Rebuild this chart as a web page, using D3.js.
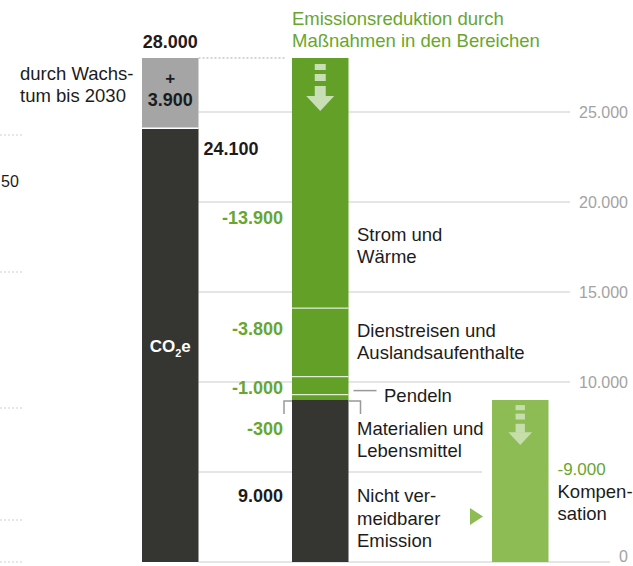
<!DOCTYPE html>
<html>
<head>
<meta charset="utf-8">
<script src="https://cdn.jsdelivr.net/npm/d3@7"></script>
<style>
  body { margin: 0; background: #fff; }
  svg { display: block; font-family: "Liberation Sans", Arial, sans-serif; }
</style>
</head>
<body>
<svg id="chart" width="633" height="566"></svg>
<script>
// t CO2e
const startValue = 24100;
const growthValue = 3900;
const growthLabel = ["durch Wachs-", "tum bis 2030"];
const measureNames = [["Strom und", "Wärme"], ["Dienstreisen und", "Auslandsaufenthalte"], ["Pendeln"], ["Materialien und", "Lebensmittel"]];
const measureValues = [-13900, -3800, -1000, -300];
const remainingName = ["Nicht ver-", "meidbarer", "Emission"];
const remainingValue = 9000;
const compensationName = ["Kompen-", "sation"];
const compensationValue = -9000;
const titleLines = ["Emissionsreduktion durch", "Maßnahmen in den Bereichen"];
const tickValues = [0, 5000, 10000, 15000, 20000, 25000];
const tickLabels = ["0", "", "10.000", "15.000", "20.000", "25.000"];

// colours
const dark = "#353532", grey = "#a5a5a5", green = "#62a028", lightGreen = "#8dbc55";
const greenText = "#68a630", textCol = "#1c1c1c";
const fs = 18.5;

const de = d3.formatLocale({ decimal: ",", thousands: ".", grouping: [3], currency: ["", " €"], minus: "-" });
const fmt = de.format(",d");

const svg = d3.select("#chart");
const y = d3.scaleLinear().domain([0, 25000]).range([562, 112]);

// column left edges
const col = { start: 142, measures: 292, comp: 492 };
const barW = 56.5;

// layout of the labels (baselines)
const valueLabelY = [224, 335, 394, 435];
const nameLabelY = [241, 337, 402, 435];
const nameLabelX = [357, 357, 384, 357];

// --- cut-off neighbour chart on the left edge
const ghost = svg.append("g").attr("stroke", "#cfcfcf").attr("stroke-dasharray", "2,2");
[135, 272, 408, 520, 562].forEach(gy => {
  ghost.append("line").attr("x1", 0).attr("x2", 22).attr("y1", gy).attr("y2", gy);
});
svg.append("text").attr("x", 1).attr("y", 187)
  .attr("font-size", 16).attr("fill", textCol).text("50");

// --- gridlines + axis labels on the right
const axis = svg.append("g");
tickValues.forEach((t, i) => {
  const lbl = axis.append("text")
    .attr("x", 628).attr("y", Math.min(y(t), 556)).attr("dy", "0.35em")
    .attr("text-anchor", "end").attr("font-size", 16).attr("fill", "#a3a3a3")
    .text(tickLabels[i]);
  const w = tickLabels[i] ? lbl.node().getComputedTextLength() : 0;
  const x2 = tickLabels[i] ? 628 - w - 9 : col.comp - 10;
  axis.insert("line", "text")
    .attr("x1", col.start + barW).attr("x2", x2)
    .attr("y1", y(t)).attr("y2", y(t))
    .attr("stroke", "#dcdcdc").attr("stroke-width", 1.5);
});

const total = startValue + growthValue;
// dotted connector at the top level
svg.append("line")
  .attr("x1", col.start + barW).attr("x2", col.measures - 6)
  .attr("y1", y(total)).attr("y2", y(total))
  .attr("stroke", "#c8c8c8").attr("stroke-width", 1.5).attr("stroke-dasharray", "2,2");

// --- first column: start value + growth
svg.append("rect").attr("x", col.start).attr("width", barW)
  .attr("y", y(startValue)).attr("height", y(0) - y(startValue)).attr("fill", dark);
svg.append("rect").attr("x", col.start).attr("width", barW)
  .attr("y", y(total)).attr("height", y(startValue) - y(total)).attr("fill", grey);
svg.append("line").attr("x1", col.start).attr("x2", col.start + barW)
  .attr("y1", y(startValue)).attr("y2", y(startValue)).attr("stroke", "#fff").attr("stroke-width", 1.5);

const cx0 = col.start + barW / 2;
svg.append("text").attr("x", cx0).attr("y", 48).attr("text-anchor", "middle")
  .attr("font-size", 18).attr("font-weight", "bold").attr("fill", textCol).text(fmt(total));
svg.append("text").attr("x", cx0).attr("y", 84).attr("text-anchor", "middle")
  .attr("font-size", 17).attr("font-weight", "bold").attr("fill", textCol).text("+");
svg.append("text").attr("x", cx0).attr("y", 106).attr("text-anchor", "middle")
  .attr("font-size", 18).attr("font-weight", "bold").attr("fill", textCol).text(fmt(growthValue));
growthLabel.forEach((l, i) => {
  svg.append("text").attr("x", 20).attr("y", 80 + i * 22)
    .attr("font-size", fs).attr("fill", textCol).text(l);
});
svg.append("text").attr("x", col.start + barW + 5).attr("y", 155)
  .attr("font-size", 18).attr("font-weight", "bold").attr("fill", textCol).text(fmt(startValue));
const co2 = svg.append("text").attr("x", cx0).attr("y", 352).attr("text-anchor", "middle")
  .attr("font-size", 17).attr("font-weight", "bold").attr("fill", "#fff");
co2.append("tspan").text("CO");
co2.append("tspan").attr("font-size", 11).attr("dy", 5).text("2");
co2.append("tspan").attr("dy", -5).text("e");

// --- second column: reductions waterfall
let cum = total;
const segs = measureValues.map(v => {
  const s = { top: cum, bottom: cum + v, value: v };
  cum += v;
  return s;
});
svg.selectAll("rect.measure").data(segs).join("rect")
  .attr("class", "measure")
  .attr("x", col.measures).attr("width", barW)
  .attr("y", d => y(d.top)).attr("height", d => y(d.bottom) - y(d.top))
  .attr("fill", green);
svg.append("rect").attr("x", col.measures).attr("width", barW)
  .attr("y", y(remainingValue)).attr("height", y(0) - y(remainingValue)).attr("fill", dark);
// white separators
segs.slice(1).forEach(s => {
  svg.append("line").attr("x1", col.measures).attr("x2", col.measures + barW)
    .attr("y1", y(s.top)).attr("y2", y(s.top))
    .attr("stroke", "#fff").attr("stroke-opacity", 0.75).attr("stroke-width", 1.2);
});

svg.selectAll("text.mval").data(segs).join("text")
  .attr("class", "mval")
  .attr("x", col.measures - 9).attr("y", (d, i) => valueLabelY[i])
  .attr("text-anchor", "end").attr("font-size", 18).attr("font-weight", "bold")
  .attr("fill", greenText).text(d => fmt(d.value));
measureNames.forEach((lines, i) => {
  lines.forEach((l, j) => {
    svg.append("text").attr("x", nameLabelX[i]).attr("y", nameLabelY[i] + j * 22)
      .attr("font-size", fs).attr("fill", textCol).text(l);
  });
});
svg.append("text").attr("x", col.measures - 9).attr("y", 502)
  .attr("text-anchor", "end").attr("font-size", 18).attr("font-weight", "bold")
  .attr("fill", textCol).text(fmt(remainingValue));
remainingName.forEach((l, j) => {
  svg.append("text").attr("x", 357).attr("y", 502 + j * 22.5)
    .attr("font-size", fs).attr("fill", textCol).text(l);
});

// leader for "Pendeln" and bracket for the smallest segment
const pend = segs[2], mat = segs[3];
const pendY = (y(pend.top) + y(pend.bottom)) / 2 + 5;
svg.append("line").attr("x1", col.measures + barW + 5).attr("x2", col.measures + barW + 28)
  .attr("y1", pendY).attr("y2", pendY).attr("stroke", "#999").attr("stroke-width", 1.5);
const by = y(mat.bottom) + 1;
svg.append("path")
  .attr("d", `M${col.measures - 8},${by + 13}V${by}H${col.measures}M${col.measures + barW},${by}H${col.measures + barW + 12}V${by + 13}`)
  .attr("fill", "none").attr("stroke", "#999").attr("stroke-width", 1.5);

// title
titleLines.forEach((l, i) => {
  svg.append("text").attr("x", col.measures).attr("y", 25 + i * 22)
    .attr("font-size", fs).attr("fill", greenText).text(l);
});

// --- third column: compensation
svg.append("rect").attr("x", col.comp).attr("width", barW)
  .attr("y", y(-compensationValue)).attr("height", y(0) - y(-compensationValue))
  .attr("fill", lightGreen);
svg.append("text").attr("x", col.comp + barW + 9).attr("y", 475)
  .attr("font-size", 17).attr("fill", greenText).text(fmt(compensationValue));
compensationName.forEach((l, j) => {
  svg.append("text").attr("x", col.comp + barW + 9).attr("y", 498 + j * 22)
    .attr("font-size", fs).attr("fill", textCol).text(l);
});
// pointer triangle
svg.append("path").attr("d", "M470,508L483,516.5L470,525Z").attr("fill", lightGreen);

// dashed down arrows
function downArrow(cx, top, s, op) {
  const g = svg.append("g").attr("fill", "#fff").attr("fill-opacity", op);
  g.append("rect").attr("x", cx - 5.5 * s).attr("y", top + 6 * s).attr("width", 11 * s).attr("height", 6 * s);
  g.append("rect").attr("x", cx - 5.5 * s).attr("y", top + 16 * s).attr("width", 11 * s).attr("height", 7 * s);
  g.append("rect").attr("x", cx - 5.5 * s).attr("y", top + 28 * s).attr("width", 11 * s).attr("height", 10 * s);
  g.append("path").attr("d", `M${cx - 14 * s},${top + 38 * s}H${cx + 14 * s}L${cx},${top + 53 * s}Z`);
}
downArrow(col.measures + barW / 2, y(total), 1, 0.65);
downArrow(col.comp + barW / 2, y(-compensationValue), 0.85, 0.5);
</script>
</body>
</html>
